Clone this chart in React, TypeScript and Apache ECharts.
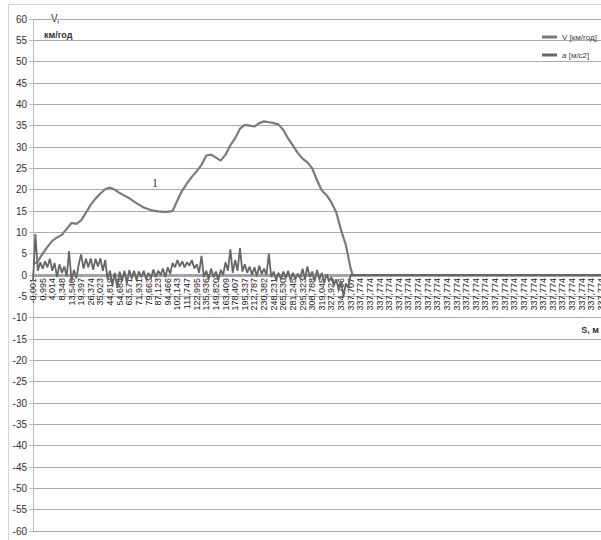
import React, { useEffect, useRef } from "react";
import * as echarts from "echarts";

// Distance tick labels (S, м)
const distLabels: string[] = [
  "-0,001", "0,995", "4,014", "8,348", "13,540", "19,397", "26,374", "35,023",
  "44,819", "54,684", "63,571", "71,931", "79,663", "87,123", "94,466", "102,143",
  "111,747", "122,995", "135,936", "149,820", "163,409", "178,407", "195,337", "212,787",
  "230,382", "248,231", "265,530", "281,245", "295,323", "308,788", "319,045", "327,922",
  "334,786", "337,707",
  "337,774", "337,774", "337,774", "337,774", "337,774", "337,774", "337,774", "337,774",
  "337,774", "337,774", "337,774", "337,774", "337,774", "337,774", "337,774", "337,774",
  "337,774", "337,774", "337,774", "337,774", "337,774", "337,774", "337,774", "337,774",
  "337,774", "337,774",
];

// Speed V [км/год], sampled every half label step
const speedStep = 0.5;
const speedValues: number[] = [
  2.5, 3.2, 5.0, 6.6, 8.0, 8.8, 9.4, 10.8, 12.2, 12.0,
  12.8, 14.6, 16.5, 17.9, 19.1, 20.1, 20.5, 20.0, 19.2, 18.6,
  18.0, 17.2, 16.5, 15.8, 15.4, 15.1, 14.9, 14.8, 14.8, 15.0,
  17.5, 19.8, 21.5, 23.0, 24.3, 25.8, 28.0, 28.2, 27.5, 26.8,
  28.2, 30.4, 32.1, 34.3, 35.2, 35.0, 34.8, 35.6, 36.0, 35.8,
  35.6, 35.3, 34.0, 32.0, 30.3, 28.6, 27.3, 26.4, 25.0, 22.2,
  19.8, 18.7, 17.0, 14.7, 10.5, 7.0, 1.5,
];
const speedTail: [number, number][] = [[33.2, 0], [59, 0]];

// Acceleration a [м/с2], sampled every quarter label step
const accelStep = 0.25;
const accelValues: number[] = [
  -1.5, 9.6, 1.0, 3.0, 1.5, 3.2, 1.8, 3.8, 1.0, 2.8,
  -0.5, 2.5, 0.5, 2.0, -0.3, 5.6, -1.5, 1.2, -0.8, 2.5,
  4.8, 1.5, 3.8, 1.8, 3.9, 1.2, 3.8, 2.0, 3.9, 1.0,
  3.5, -1.0, 1.0, -2.5, 0.5, -3.0, 0.8, -1.5, 1.0, -2.0,
  1.2, -0.8, 1.0, -1.2, 0.8, -0.5, 1.0, -1.0, 0.5, -0.8,
  1.3, -0.5, 1.0, 0.0, 1.5, -0.5, 1.8, 0.3, 2.8, 1.8,
  3.5, 2.0, 3.2, 1.8, 3.0, 2.2, 3.5, 1.5, 2.5, 0.5,
  4.5, -0.5, 1.0, -1.0, 1.5, -0.5, 0.8, -1.2, 1.2, 0.0,
  3.0, 1.0, 6.0, 0.5, 3.5, 1.0, 6.3, 0.8, 2.5, 0.5,
  2.0, 0.0, 1.8, -0.3, 2.2, 0.2, 1.5, 0.0, 5.0, -0.5,
  0.8, -1.2, 0.5, -1.0, 0.8, -0.8, 1.0, -1.2, 0.5, -1.0,
  0.3, -0.8, 1.5, -1.0, 2.0, -0.5, 0.8, -1.5, 1.2, -1.0,
  0.5, -1.8, 0.2, -1.5, -0.5, -2.5, -1.0, -3.5, -1.5, -5.0,
  -2.0, -3.0, 0.0,
];
const accelTail: [number, number][] = [[59, 0]];

const yMin = -60;
const yMax = 60;
const yInterval = 5;

const FONT = "'Liberation Sans Narrow', 'Liberation Sans', Arial, sans-serif";

const GRID_TOP = 19;
const GRID_BOTTOM = 9;
const CHART_H = 540;

export default function App() {
  const ref = useRef<HTMLDivElement>(null);

  useEffect(() => {
    if (!ref.current) return;
    const chart = echarts.init(ref.current, undefined, { renderer: "svg" });

    const speedData = speedValues.map((v, i) => [i * speedStep, v]).concat(speedTail);
    const accelData = accelValues.map((v, i) => [i * accelStep, v]).concat(accelTail);

    // place the category axis where V = 0 crosses the plot
    const plotH = CHART_H - GRID_TOP - GRID_BOTTOM;
    const zeroOffset = -(plotH * (0 - yMin)) / (yMax - yMin);

    chart.setOption({
      animation: false,
      backgroundColor: "#ffffff",
      textStyle: { fontFamily: FONT },
      grid: {
        left: 33,
        top: GRID_TOP,
        right: 0,
        bottom: GRID_BOTTOM,
        containLabel: false,
        outerBoundsMode: "none",
      },
      legend: {
        orient: "vertical",
        left: 537,
        top: 28,
        itemWidth: 15,
        itemHeight: 3,
        itemGap: 10,
        align: "left",
        icon: "rect",
        textStyle: { fontSize: 8, color: "#404040", fontFamily: FONT },
        data: ["V [км/год]", "a [м/с2]"],
      },
      xAxis: [
        {
          type: "category",
          data: distLabels,
          boundaryGap: false,
          position: "bottom",
          offset: zeroOffset,
          axisLine: { onZero: false, lineStyle: { color: "#a3a3a3", width: 3 } },
          axisTick: { show: false },
          axisLabel: {
            interval: 0,
            rotate: 90,
            fontSize: 9,
            margin: 3,
            color: "#202020",
            fontFamily: FONT,
          },
          splitLine: { show: false },
        },
        {
          type: "value",
          min: 0,
          max: distLabels.length - 1,
          show: false,
          axisLine: { onZero: false },
        },
      ],
      yAxis: {
        type: "value",
        min: yMin,
        max: yMax,
        interval: yInterval,
        axisLine: { show: true, onZero: false, lineStyle: { color: "#bdbdbd", width: 1 } },
        axisTick: { show: true, length: 4, lineStyle: { color: "#bdbdbd" } },
        axisLabel: { fontSize: 10, color: "#303030", margin: 6, fontFamily: FONT },
        splitLine: { show: true, lineStyle: { color: "#aaaaaa", width: 1 } },
      },
      series: [
        {
          name: "V [км/год]",
          type: "line",
          xAxisIndex: 1,
          data: speedData,
          symbol: "none",
          lineStyle: { color: "#7a7a7a", width: 2.2 },
          itemStyle: { color: "#7a7a7a" },
          z: 3,
        },
        {
          name: "a [м/с2]",
          type: "line",
          xAxisIndex: 1,
          data: accelData,
          symbol: "none",
          lineStyle: { color: "#666666", width: 1.8 },
          itemStyle: { color: "#666666" },
          z: 4,
        },
      ],
      graphic: [
        {
          type: "line",
          shape: { x1: 8.5, y1: 4.5, x2: 601, y2: 4.5 },
          style: { stroke: "#d4d4d4", lineWidth: 1 },
          silent: true,
        },
        {
          type: "line",
          shape: { x1: 8.5, y1: 4.5, x2: 8.5, y2: 540 },
          style: { stroke: "#d4d4d4", lineWidth: 1 },
          silent: true,
        },
        {
          type: "rect",
          shape: { x: 45, y: 12, width: 19, height: 13 },
          style: { fill: "#ffffff" },
          silent: true,
        },
        {
          type: "text",
          x: 51,
          y: 13,
          style: { text: "V,", fontSize: 10, fill: "#303030", fontFamily: FONT },
          silent: true,
        },
        {
          type: "text",
          x: 44,
          y: 30,
          style: { text: "км/год", fontSize: 9, fontWeight: "bold", fill: "#303030", fontFamily: FONT },
          silent: true,
        },
        {
          type: "text",
          x: 599,
          y: 325,
          style: {
            text: "S, м",
            fontSize: 9,
            fontWeight: "bold",
            fill: "#303030",
            fontFamily: FONT,
            align: "right",
          },
          silent: true,
        },
        {
          type: "text",
          x: 152,
          y: 177,
          style: { text: "1", fontSize: 12, fill: "#333333", fontFamily: "'Liberation Serif', 'DejaVu Serif', serif" },
          silent: true,
        },
      ],
    });

    return () => {
      chart.dispose();
    };
  }, []);

  return (
    <div
      ref={ref}
      style={{ position: "fixed", left: 0, top: 0, width: 601, height: 540 }}
    />
  );
}
